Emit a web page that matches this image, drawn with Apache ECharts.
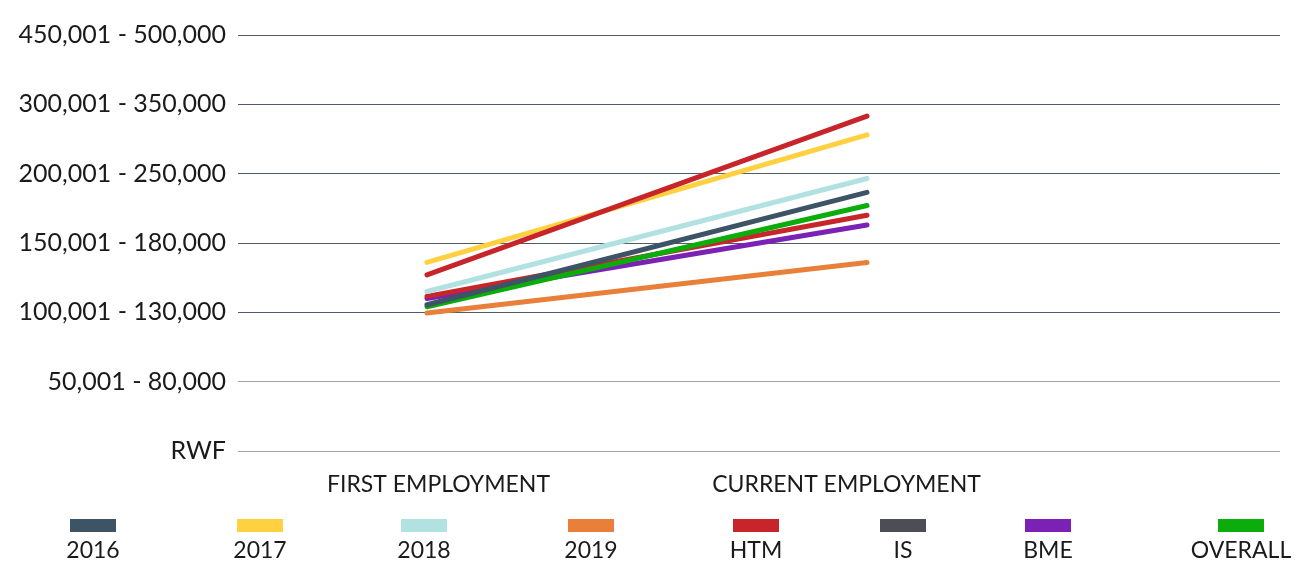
<!DOCTYPE html>
<html>
<head>
<meta charset="utf-8">
<script src="https://cdn.jsdelivr.net/npm/echarts@6/dist/echarts.min.js"></script>
<style>
  html, body { margin: 0; padding: 0; background: #fff; }
  #chart { width: 1300px; height: 562px; }
</style>
</head>
<body>
<div id="chart"></div>
<script>
// 刻度标签（从下到上）
let yLabels = ["RWF", "50,001 - 80,000", "100,001 - 130,000", "150,001 - 180,000",
  "200,001 - 250,000", "300,001 - 350,000", "450,001 - 500,000"];
let categories = ["FIRST EMPLOYMENT", "CURRENT EMPLOYMENT"];

// 每条线：[首次就业, 当前就业]，以刻度序号计
let d2016 = [2.11, 3.73];
let d2017 = [2.72, 4.56];
let d2018 = [2.30, 3.93];
let d2019 = [1.99, 2.72];
let dHTM = [2.54, 4.83];
let dIS = [2.23, 3.40];
let dBME = [2.20, 3.26];
let dOverall = [2.08, 3.54];

let legendNames = ["2016", "2017", "2018", "2019", "HTM", "IS", "BME", "OVERALL"];
let legendColors = ["#3d5366", "#ffd03f", "#b1e1e1", "#e8803a", "#c8252a", "#4d4d55", "#7b22b5", "#0aad0a"];
let legendCenters = [93, 260, 424, 591, 756, 903, 1048, 1241];

let myChart = echarts.init(document.getElementById("chart"));

function lineSeries(name, data, color) {
  return {
    name: name,
    type: "line",
    xAxisIndex: 0,
    data: [[1, data[0]], [2, data[1]]],
    showSymbol: false,
    symbol: "none",
    itemStyle: {color: color},
    lineStyle: {color: color, width: 5, cap: "round"},
    emphasis: {disabled: true},
    z: 2
  };
}

// 绘制顺序（后画的在上面）
let series = [
  lineSeries("2019", d2019, "#e8803a"),
  lineSeries("BME", dBME, "#7b22b5"),
  lineSeries("IS", dIS, "#c8252a"),
  lineSeries("OVERALL", dOverall, "#0aad0a"),
  lineSeries("2016", d2016, "#3d5366"),
  lineSeries("2018", d2018, "#b1e1e1"),
  lineSeries("2017", d2017, "#ffd03f"),
  lineSeries("HTM", dHTM, "#c8252a")
];

let legends = [];
let graphics = [];
for (let i in legendNames) {
  legends.push({
    left: legendCenters[i] - 23,
    top: 519,
    padding: 0,
    itemWidth: 46,
    itemHeight: 13,
    icon: "rect",
    selectedMode: false,
    formatter: function () { return ""; },
    data: [{name: legendNames[i], itemStyle: {color: legendColors[i]}}]
  });
  graphics.push({
    type: "text",
    x: legendCenters[i],
    y: 551,
    style: {
      text: legendNames[i],
      fill: "#1a1a1a",
      font: "23px Lato",
      align: "center",
      verticalAlign: "middle"
    }
  });
}

let option = {
  backgroundColor: "#fff",
  animation: false,
  textStyle: {fontFamily: "Lato"},
  grid: {left: 238, right: 20, top: 35, bottom: 111},
  xAxis: [{
    type: "value",
    min: 0.5705,
    max: 2.9386,
    show: false
  }, {
    type: "value",
    min: 0.5086,
    max: 3.0625,
    position: "bottom",
    axisLine: {show: false},
    axisTick: {show: false},
    splitLine: {show: false},
    axisLabel: {
      customValues: [1, 2],
      margin: 22,
      fontSize: 23,
      color: "#1a1a1a",
      fontFamily: "Lato",
      formatter: function (v) { return categories[Math.round(v) - 1]; }
    }
  }],
  yAxis: {
    type: "value",
    min: 0,
    max: 6,
    interval: 1,
    axisLine: {show: false},
    axisTick: {show: false},
    splitLine: {
      lineStyle: {
        color: ["#9aa5b0", "#9aa5b0", "#4f5d6a", "#4f5d6a", "#4f5d6a", "#4f5d6a", "#4f5d6a"],
        width: 1.2
      }
    },
    axisLabel: {
      margin: 12,
      fontSize: 25,
      color: "#1a1a1a",
      fontFamily: "Lato",
      formatter: function (v) { return yLabels[v]; }
    }
  },
  legend: legends,
  graphic: graphics,
  series: series
};

myChart.setOption(option);
</script>
</body>
</html>
